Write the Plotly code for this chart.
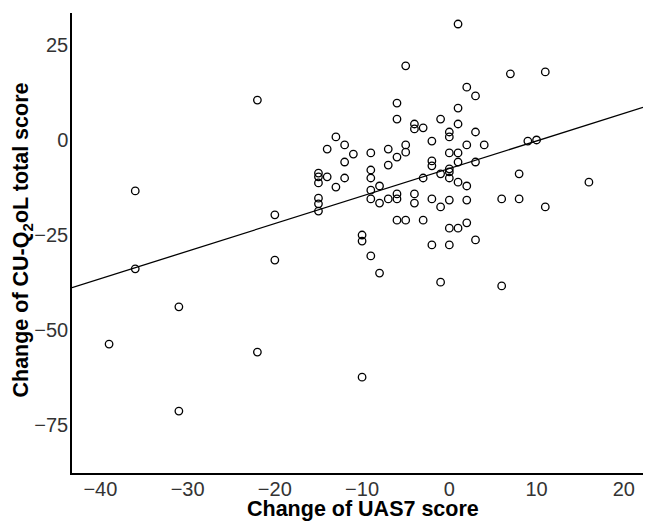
import plotly.graph_objects as go
import numpy as np

# Change of UAS7 score (x) and change of CU-Q2oL total score (y)
uas7_change = [
    -36, -36, -31, -39, -31, -22, -20, -20, -22, -10,
    -8, -9, -10, -10, -15, -15, -15, -15, -15, -15,
    -14, -14, -13, -13, -12, -12, -12, -11, -9, -9,
    -9, -9, -9, -8, -8, -7, -7, -7, -6, -6,
    -6, -6, -6, -6, -5, -5, -5, -5, -4, -4,
    -4, -4, -3, -3, -3, -2, -2, -2, -2, -2,
    -1, -1, -1, -1, 0, 0, 0, 0, 0, 0,
    0, 0, 0, 1, 1, 1, 1, 1, 1, 1,
    2, 2, 2, 2, 2, 3, 3, 3, 3, 4,
    6, 6, 7, 8, 8, 9, 10, 11, 11, 16,
]
cuq2ol_change = [
    -13.4, -33.9, -43.9, -53.7, -71.3, 10.5, -19.7, -31.6, -55.8, -62.4,
    -35.0, -30.5, -25.0, -26.6, -8.7, -9.7, -11.3, -15.3, -16.8, -18.7,
    -2.4, -9.7, 0.8, -12.4, -1.3, -5.8, -10.0, -3.7, -3.4, -7.9,
    -10.0, -13.2, -15.5, -12.1, -16.6, -2.4, -6.6, -15.5, 9.7, 5.5,
    -4.5, -14.2, -15.5, -21.1, 19.5, -1.3, -3.2, -21.1, 4.2, 2.9,
    -14.2, -16.6, 3.2, -10.0, -21.1, -0.3, -5.5, -6.8, -15.5, -27.6,
    5.5, -8.9, -17.6, -37.4, 2.1, 0.8, -3.4, -7.6, -8.4, -10.0,
    -15.8, -23.2, -27.6, 30.5, 8.4, 4.2, -3.4, -5.8, -11.1, -23.2,
    13.9, -1.3, -12.1, -15.8, -21.8, 11.6, 2.1, -5.8, -26.3, -1.3,
    -15.5, -38.4, 17.4, -8.9, -15.5, -0.3, 0.0, 17.9, -17.6, -11.1,
]

# Regression line
fit_slope = 0.725
fit_intercept = -7.5
x_range = [-43.25, 22.2]
y_range = [-87.6, 33.4]

x_ticks = [-40, -30, -20, -10, 0, 10, 20]
y_ticks = [-75, -50, -25, 0, 25]

x_title = "<b>Change of UAS7 score</b>"
y_title = "<b>Change of CU-Q<sub>2</sub>oL total score</b>"

fit_x = np.array(x_range)
fit_y = fit_intercept + fit_slope * fit_x

fig = go.Figure()
fig.add_trace(go.Scatter(
    x=fit_x, y=fit_y, mode="lines",
    line=dict(color="black", width=1.3),
    hoverinfo="skip", showlegend=False,
))
fig.add_trace(go.Scatter(
    x=uas7_change, y=cuq2ol_change, mode="markers",
    marker=dict(symbol="circle-open", size=7.5, color="black",
                line=dict(width=1.3, color="black")),
    showlegend=False,
))

font_family = "Arial, 'Liberation Sans', Helvetica, sans-serif"
axis_common = dict(
    showgrid=False, zeroline=False, showline=True,
    linecolor="black", linewidth=1.5, ticks="",
    tickfont=dict(family=font_family, size=20, color="#333333"),
    mirror=False,
)

fig.update_layout(
    width=647, height=522,
    margin=dict(l=72, r=4, t=13, b=49),
    plot_bgcolor="white", paper_bgcolor="white",
    font=dict(family=font_family),
    xaxis=dict(range=x_range, tickvals=x_ticks, ticklabelstandoff=-3,
               **axis_common),
    yaxis=dict(range=y_range, tickvals=y_ticks, ticklabelstandoff=-2,
               **axis_common),
    annotations=[
        dict(text=x_title, xref="paper", yref="paper",
             x=0.5088, y=-0.079, xanchor="center", yanchor="middle",
             showarrow=False,
             font=dict(family=font_family, size=21.5, color="black")),
        dict(text=y_title, xref="paper", yref="paper",
             x=-0.0858, y=0.5054, xanchor="center", yanchor="middle",
             textangle=-90, showarrow=False,
             font=dict(family=font_family, size=21.5, color="black")),
    ],
)

fig.write_html(
    "out.html",
    config={"displayModeBar": False},
    post_script="document.body.style.margin='0';document.body.style.padding='0';",
)
